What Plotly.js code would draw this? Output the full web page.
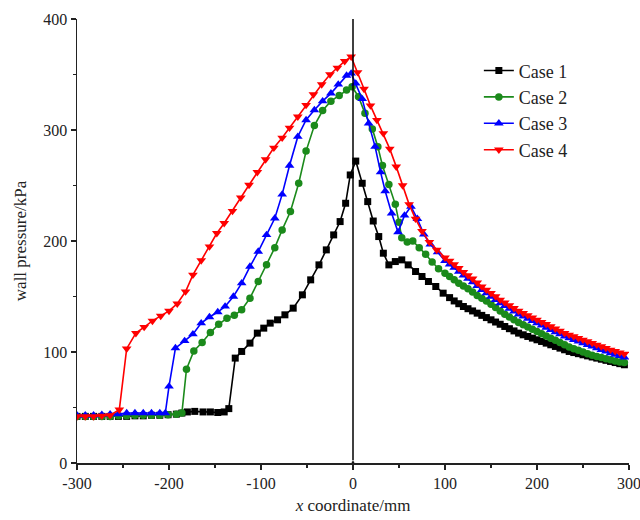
<!DOCTYPE html>
<html>
<head>
<meta charset="utf-8">
<script src="https://cdn.plot.ly/plotly-3.0.1.min.js"></script>
<style>html,body{margin:0;padding:0;background:#fff;}#chart{width:640px;height:520px;}</style>
</head>
<body>
<div id="chart"></div>
<script>
// Case 1
const case1X = [-300,-291,-282,-273,-264,-255,-246,-237,-228,-219,-210,-201,-192,-186,-180,-172,-163,-155,-147,-140,-135,-128,-121,-112,-104,-97,-90,-82,-74,-65,-55,-46,-37,-29,-21,-14,-8,-3,3,10,16,22,28,33,39,46,53,60,68,75,82,90,98,105,
  110,115,120,125,130,135,140,145,150,155,160,165,170,175,180,185,190,195,200,205,210,215,220,225,230,235,240,245,250,255,260,265,270,275,280,285,290,295];
const case1Y = [42,42,42,42,42,42,42,42.5,42.5,43,43,43.5,44,45,46,46.5,46,46,45.5,46,49,94.5,100.5,108,117,121.5,126,129,133.5,139.5,151.5,165,178.5,192,205.5,217.5,234,259.5,272,252,235.5,218,204,189,178.5,181.5,183,178.5,172.5,168,163.5,159,153,149,
  146,143.5,141,139,137,135,133,131,129,127,125,123,121,119,117,115.5,114,112.5,111,109.5,108,106.5,105,103.5,102,100.5,99.5,98.5,97.5,96.5,95.5,94.5,93.5,92.5,91.5,90.5,89.5,88.5];

// Case 2
const case2X = [-300,-291,-282,-273,-264,-255,-246,-237,-228,-219,-210,-201,-192,-186,-181,-173,-164,-155,-146,-137,-129,-121,-112,-103,-94,-85,-77,-68,-59,-51,-42,-33,-24,-15,-7,-1,6,13,21,27,32,39,46,50,53,59,65,72,79,86,93,
  100,105,110,115,120,125,130,135,140,145,150,155,160,165,170,175,180,185,190,195,200,205,210,215,220,225,230,235,240,245,250,255,260,265,270,275,280,285,290,295];
const case2Y = [42,42,42,42,42,42.5,42.5,43,43,43,43,43.5,44,45,84.5,101,108.5,117.5,125,130.5,133,138,148.5,163.5,178.5,194,210,226.5,252,281,304,317.5,326,331,336,339,330,315,301,285,268,251,233,217,203,199,200,194,188,181,175,
  171,168,165,162,159.5,157,154,151,148.5,146,143,140,137,134,131.5,129,126.5,124.5,122.5,120.5,118.5,116.5,114.5,112.5,110.5,108.5,106.5,104.5,103,101.5,100,98.5,97,96,95,94,93,92,91,90.5];

// Case 3
const case3X = [-300,-291,-282,-273,-264,-255,-246,-237,-228,-219,-210,-204,-200,-193,-183,-174,-165,-156,-147,-139,-130,-121,-112,-103,-94,-85,-77,-69,-60,-51,-42,-33,-24,-16,-7,-2,3,10,17,24,30,35,42,49,56,63,70,77,84,92,
  100,105,110,115,120,125,130,135,140,145,150,155,160,165,170,175,180,185,190,195,200,205,210,215,220,225,230,235,240,245,250,255,260,265,270,275,280,285,290,295];
const case3Y = [43,43,43,43.5,44,44,45,45,45,45,45,45,69,103.5,110,116,126,131.5,136,141,150,162,177,190.5,205.5,220.5,242,268,294,309,318,326,333,341,349,351,342,328,306,285,262,245,225,208,223,231,220,206,197,190,
  182,179,176,172.5,169,166,163,159.5,156,153,150,147,144,141.5,139,136.5,134,132,130,128,126,124,122,120,118,116,114,112.5,111,109.5,108,106.5,105,103.5,102,100.5,99,97.7,96.5,95.2];

// Case 4
const case4X = [-300,-291,-282,-273,-264,-254,-246,-236,-227,-218,-209,-200,-191,-182,-174,-165,-156,-148,-140,-131,-122,-113,-104,-95,-86,-77,-69,-60,-51,-43,-34,-25,-17,-9,-2,5,12,19,26,33,40,47,54,61,68,75,83,91,
  100,105,110,115,120,125,130,135,140,145,150,155,160,165,170,175,180,185,190,195,200,205,210,215,220,225,230,235,240,245,250,255,260,265,270,275,280,285,290,295];
const case4Y = [42,42,42,42.5,43,48,103,117,122.5,128,132.5,137,143.5,154.5,169.5,182.5,195,207,216,227,239,250.5,262,273.5,284,293,302,312,322.5,332,341,350,356,362,366,352,337,322,309,297,283,267,250,233,220,209,199,192,
  185,182,179,175.5,172,169,166,162.5,159,156,153,150,147,144.5,142,139.5,137,135,133,131,129,127,125,123,121,119,117,115.5,114,112.5,111,109.5,108,106.5,105,103.5,102,100.7,99.5,98.2];

// reference line at x = 0
const refX = [0, 0];
const refY = [0, 400];

// tick labels
const xTickVals = [-300,-200,-100,0,100,200,300];
const xTickText = ["-300","-200","-100","0","100","200","300"];
const yTickVals = [0,100,200,300,400];

const caseNames = ["Case 1", "Case 2", "Case 3", "Case 4"];
const caseColors = ["#000000", "#1b8a1b", "#0000ff", "#ff0000"];
const caseSymbols = ["square", "circle", "triangle-up", "triangle-down"];
const caseSizes = [7, 7.5, 8.5, 8.5];
const xs = [case1X, case2X, case3X, case4X];
const ys = [case1Y, case2Y, case3Y, case4Y];

const traces = caseNames.map((n, i) => ({
  x: xs[i], y: ys[i], name: n, type: "scatter", mode: "lines+markers",
  line: {color: caseColors[i], width: 1.6},
  marker: {color: caseColors[i], symbol: caseSymbols[i], size: caseSizes[i]}
}));
traces.push({
  x: refX, y: refY, type: "scatter", mode: "lines+markers", showlegend: false,
  line: {color: "#000", width: 1.5},
  marker: {color: "#000", symbol: "triangle-up", size: [6, 0]}
});

const FAM = "Liberation Serif";
const TXT = "#222";
const layout = {
  width: 640, height: 520,
  margin: {l: 77, r: 11, t: 19, b: 57},
  paper_bgcolor: "#fff", plot_bgcolor: "#fff",
  font: {family: FAM, color: TXT, size: 15},
  showlegend: true,
  legend: {x: 0.728, y: 0.925, xanchor: "left", yanchor: "top", bgcolor: "rgba(0,0,0,0)",
    font: {family: FAM, size: 18, color: TXT}},
  xaxis: {
    range: [-300, 300.01], tickvals: xTickVals, ticktext: xTickText,
    ticklabeloverflow: "allow",
    ticks: "outside", ticklen: 5, tickwidth: 1.2, tickcolor: TXT,
    minor: {dtick: 50, ticks: "outside", ticklen: 3, tickcolor: TXT, showgrid: false},
    showline: true, linecolor: TXT, linewidth: 1.5,
    showgrid: false, zeroline: false,
    tickfont: {family: FAM, size: 16, color: TXT},
    title: {text: "<i>x</i> coordinate/mm", font: {family: FAM, size: 17, color: TXT}, standoff: 8}
  },
  yaxis: {
    range: [0, 400], tickvals: yTickVals,
    ticks: "outside", ticklen: 5, tickwidth: 1.2, tickcolor: TXT,
    minor: {dtick: 50, ticks: "outside", ticklen: 3, tickcolor: TXT, showgrid: false},
    showline: true, linecolor: TXT, linewidth: 1.5,
    showgrid: false, zeroline: false,
    tickfont: {family: FAM, size: 16, color: TXT},
    title: {text: "wall pressure/kPa", font: {family: FAM, size: 17, color: TXT}, standoff: 12}
  }
};
Plotly.newPlot("chart", traces, layout, {displayModeBar: false, staticPlot: true});
</script>
</body>
</html>
